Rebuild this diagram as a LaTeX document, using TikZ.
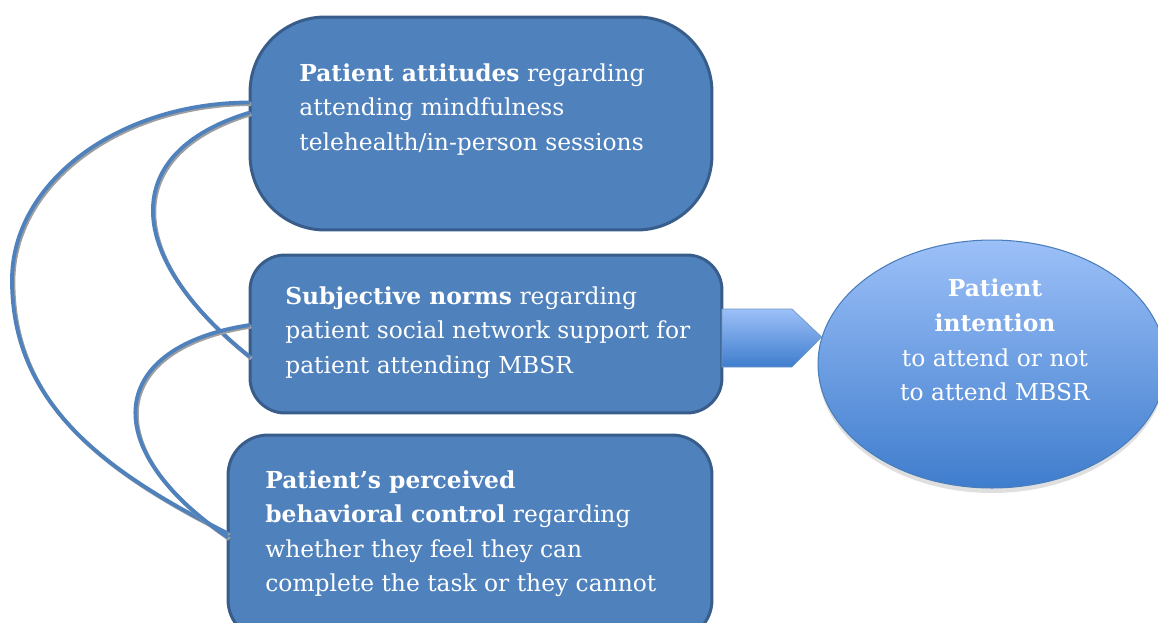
\documentclass[tikz,border=0pt]{standalone}
\usepackage{fontspec}
\setmainfont{DejaVu Serif}
\usetikzlibrary{calc,shapes.geometric}

\definecolor{boxfill}{HTML}{4F81BD}
\definecolor{boxline}{HTML}{385D8A}
\definecolor{lightblue}{HTML}{9CC0F8}
\definecolor{deepblue}{HTML}{3F7DCD}
\definecolor{ovalline}{HTML}{4A7EBB}

\tikzset{
  factor/.style={draw=boxline, fill=boxfill, line width=1.7pt, inner sep=0pt, outer sep=0pt},
  factortext/.style={anchor=north west, align=left, text=white, inner sep=0pt,
    font=\fontsize{13.3}{19.7}\selectfont},
  link/.style={draw=boxfill, line width=2.2pt,
    preaction={draw=gray!75, line width=2.2pt, transform canvas={shift={(1.4,1.6)}}}},
}

\begin{document}
\begin{tikzpicture}[x=0.02cm,y=-0.02cm]
\useasboundingbox (0,0) rectangle (1158,622);
\clip (0,0) rectangle (1158,622);

% the three factors
\node[factor, rounded corners=1.5cm, minimum width=9.24cm, minimum height=4.26cm] (att) at (481,123.5) {};
\node[factor, rounded corners=0.7cm, minimum width=9.44cm, minimum height=3.16cm] (nor) at (486,334) {};
\node[factor, rounded corners=0.8cm, minimum width=9.68cm, minimum height=4.1cm] (per) at (470,537.5) {};

\node[factortext] (attTxt) at (299,63) {\textbf{Patient attitudes} regarding\\attending mindfulness\\telehealth/in-person sessions};
\node[factortext] (norTxt) at (285,286) {\textbf{Subjective norms} regarding\\patient social network support for\\patient attending MBSR};
\node[factortext] (perTxt) at (265,470) {\textbf{Patient’s perceived}\\\textbf{behavioral control} regarding\\whether they feel they can\\complete the task or they cannot};

% intention, with a faint shadow under it
\fill[gray, opacity=0.25] (992,368) ellipse [x radius=3.48cm, y radius=2.5cm];
\node[ellipse, draw=ovalline, line width=0.6pt, top color=lightblue, bottom color=deepblue,
  minimum width=6.96cm, minimum height=4.96cm, inner sep=0pt] (int) at (992,364) {};
\node[align=center, text=white, font=\fontsize{13.3}{19.7}\selectfont] (intTxt) at (995,340)
  {\textbf{Patient}\\\textbf{intention}\\to attend or not\\to attend MBSR};

% arrow into the intention
\shade[top color=lightblue, bottom color=deepblue, draw=ovalline!80, line width=0.4pt]
  ($(nor.east)+(0,-25)$) -- ($(nor.east)+(70,-25)$) -- (int.171)
  -- ($(nor.east)+(70,33)$) -- ($(nor.east)+(0,33)$) -- cycle;

% curved links between the factors
\coordinate (outerL) at (12,280);
\draw[link] ($(att.west)+(0,-21)$) .. controls +(-131,0) and +(0,-98) .. (outerL)
  .. controls +(0,120) and +(-130,-65) .. ($(per.west)+(0,-4)$);
\draw[link] ($(att.west)+(0,-11)$) .. controls +(-130,39) and +(-129,-103) .. ($(nor.west)+(0,23)$);
\draw[link] ($(nor.west)+(0,-9)$) .. controls +(-140,21) and +(-135,-92) .. ($(per.west)+(0,0)$);
\end{tikzpicture}
\end{document}
